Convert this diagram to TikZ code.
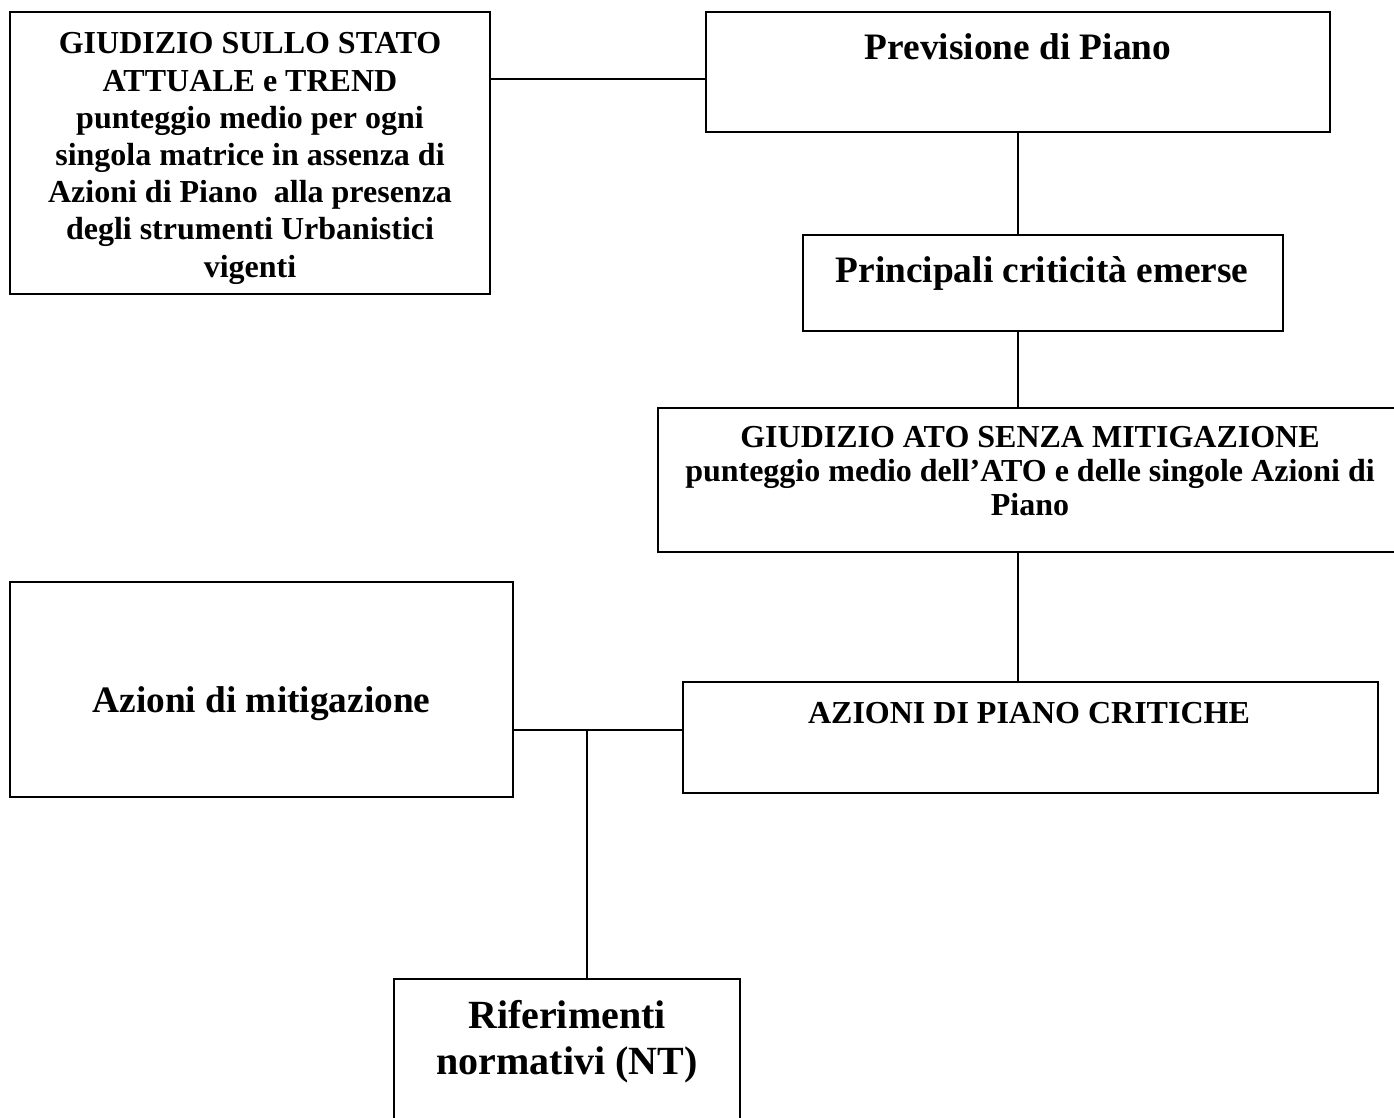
\documentclass[tikz,border=0pt]{standalone}
\usepackage{fontspec}
\setmainfont{Liberation Serif}
\begin{document}
\begin{tikzpicture}[x=1pt,y=-1pt,
  box/.style={draw, line width=1.3pt, rectangle, inner sep=0pt},
  lbl/.style={anchor=base, align=center, inner sep=0pt},
  sz24/.style={font=\fontsize{32}{37.2}\selectfont\bfseries},
  sz24t/.style={font=\fontsize{32}{34}\selectfont\bfseries},
  sz28/.style={font=\fontsize{37.33}{42}\selectfont\bfseries},
  sz30/.style={font=\fontsize{40}{46}\selectfont\bfseries},
  conn/.style={line width=1.3pt}]
\useasboundingbox (0,0) rectangle (1394,1118);
% boxes
\node[box, minimum width=480, minimum height=282] (b1) at (250,153) {};
\node[box, minimum width=624, minimum height=120] (b2) at (1018,72) {};
\node[box, minimum width=480, minimum height=96] (b3) at (1043,283) {};
\node[box, minimum width=744, minimum height=144] (b4) at (1030,480) {};
\node[box, minimum width=503, minimum height=215] (b5) at (261.5,689.5) {};
\node[box, minimum width=695, minimum height=111] (b6) at (1030.5,737.5) {};
\node[box, minimum width=346, minimum height=151] (b7) at (567,1054.5) {};
% texts (base anchor = baseline of the last line)
\node[lbl, sz24] (t1) at (250,277) {GIUDIZIO SULLO STATO\\ATTUALE e TREND\\punteggio medio per ogni\\singola matrice in assenza di\\Azioni di Piano\ \ alla presenza\\degli strumenti Urbanistici\\vigenti};
\node[lbl, sz28] (t2) at (1018,60) {Previsione di Piano};
\node[lbl, sz28] (t3) at (1042,282) {Principali criticità emerse};
\node[lbl, sz24t] (t4) at (1030,515) {GIUDIZIO ATO SENZA MITIGAZIONE\\punteggio medio dell’ATO e delle singole Azioni di\\Piano};
\node[lbl, sz28] (t5) at (261.5,712) {Azioni di mitigazione};
\node[lbl, sz24] (t6) at (1029,723) {AZIONI DI PIANO CRITICHE};
\node[lbl, sz30] (t7) at (567,1074) {Riferimenti\\normativi (NT)};
% connectors
\coordinate (j) at (587,730);
\draw[conn] (b1.east |- 0,79) -- (b2.west |- 0,79);
\draw[conn] (b2.south) -- (b3.north -| b2.south);
\draw[conn] (b3.south -| b2.south) -- (b4.north -| b2.south);
\draw[conn] (b4.south -| b2.south) -- (b6.north -| b2.south);
\draw[conn] (b5.east |- j) -- (b6.west |- j);
\draw[conn] (j) -- (b7.north -| j);
\end{tikzpicture}
\end{document}
